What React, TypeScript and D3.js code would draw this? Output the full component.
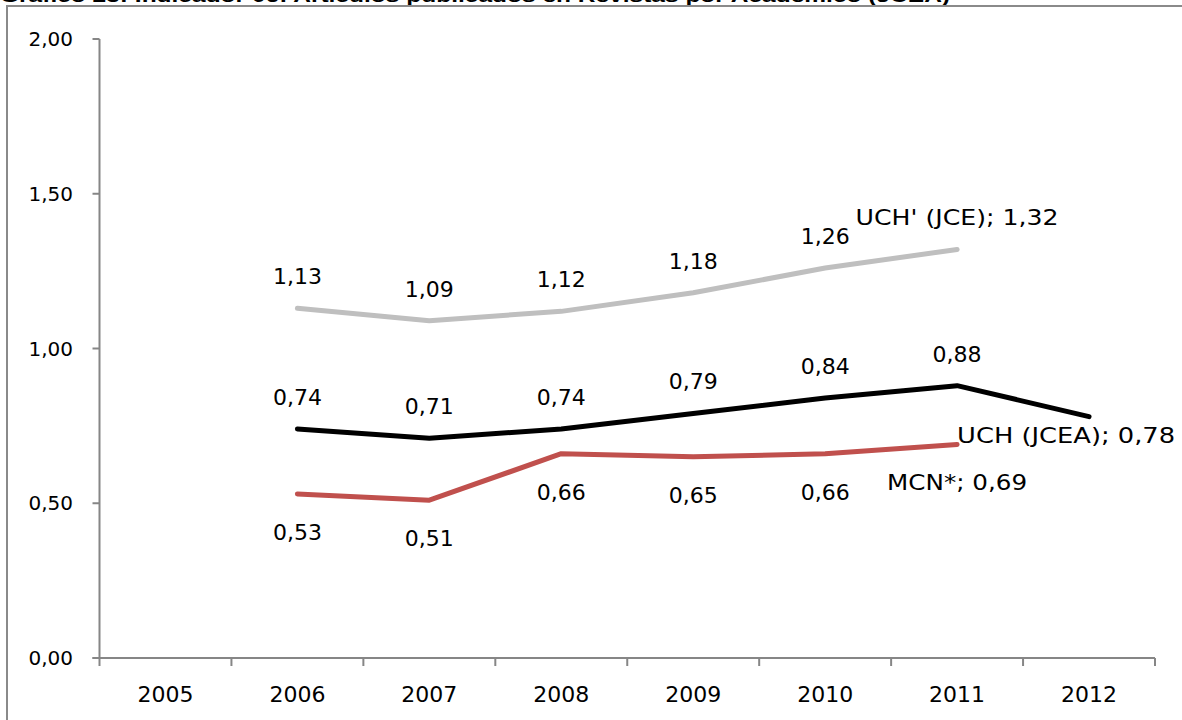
import React, { useEffect, useRef } from "react";
import * as d3 from "d3";

const years = ["2005", "2006", "2007", "2008", "2009", "2010", "2011", "2012"];
const yTicks = [0, 0.5, 1.0, 1.5, 2.0];

const jceYears = ["2006", "2007", "2008", "2009", "2010", "2011"];
const jceValues = [1.13, 1.09, 1.12, 1.18, 1.26, 1.32];

const jceaYears = ["2006", "2007", "2008", "2009", "2010", "2011", "2012"];
const jceaValues = [0.74, 0.71, 0.74, 0.79, 0.84, 0.88, 0.78];

const mcnYears = ["2006", "2007", "2008", "2009", "2010", "2011"];
const mcnValues = [0.53, 0.51, 0.66, 0.65, 0.66, 0.69];

const title = "Gráfico 23: Indicador 06: Artículos publicados en Revistas por Académico (JCEA)";

const fmt = (v: number) => v.toFixed(2).replace(".", ",");

export default function App() {
  const ref = useRef<SVGSVGElement>(null);

  useEffect(() => {
    const svg = d3.select(ref.current);
    svg.selectAll("*").remove();
    const W = 1182, H = 720;
    const left = 99.5, right = 1155, top = 39, bottom = 658;
    const font = "'DejaVu Sans', sans-serif";

    const x = d3.scaleBand<string>().domain(years).range([left, right]).padding(0);
    const y = d3.scaleLinear().domain([0, 2]).range([bottom, top]);
    const cx = (yr: string) => (x(yr) as number) + x.bandwidth() / 2;

    svg.append("rect").attr("width", W).attr("height", H).attr("fill", "#fff");

    // title (cut off at top)
    svg.append("text")
      .attr("x", 0).attr("y", 2)
      .attr("font-family", "Arial, 'Liberation Sans', sans-serif")
      .attr("font-weight", "bold").attr("font-size", 18)
      .attr("textLength", 950).attr("lengthAdjust", "spacingAndGlyphs")
      .attr("fill", "#000").text(title);

    // outer border
    svg.append("rect")
      .attr("x", 7).attr("y", 6).attr("width", 1200).attr("height", 730)
      .attr("fill", "none").attr("stroke", "#8a8a8a").attr("stroke-width", 2);

    const axisColor = "#868686";
    // y axis
    svg.append("line").attr("x1", left).attr("x2", left).attr("y1", top).attr("y2", bottom)
      .attr("stroke", axisColor).attr("stroke-width", 2);
    yTicks.forEach((t) => {
      svg.append("line").attr("x1", left - 7).attr("x2", left).attr("y1", y(t)).attr("y2", y(t))
        .attr("stroke", axisColor).attr("stroke-width", 2);
      svg.append("text").attr("x", 73).attr("y", y(t) + 7)
        .attr("text-anchor", "end").attr("font-family", font).attr("font-size", 20)
        .attr("fill", "#000").text(fmt(t));
    });

    // x axis
    svg.append("line").attr("x1", left - 7).attr("x2", right).attr("y1", bottom).attr("y2", bottom)
      .attr("stroke", axisColor).attr("stroke-width", 2);
    const edges = years.map((yr) => x(yr) as number).concat([right]);
    edges.forEach((e) => {
      svg.append("line").attr("x1", e).attr("x2", e).attr("y1", bottom).attr("y2", bottom + 8)
        .attr("stroke", axisColor).attr("stroke-width", 2);
    });
    years.forEach((yr) => {
      svg.append("text").attr("x", cx(yr)).attr("y", 702)
        .attr("text-anchor", "middle").attr("font-family", font).attr("font-size", 22)
        .attr("fill", "#000").text(yr);
    });

    const line = d3.line<[string, number]>().x((d) => cx(d[0])).y((d) => y(d[1]));

    const series = [
      { yrs: jceYears, vals: jceValues, color: "#BFBFBF", pos: "above", name: "UCH' (JCE)" },
      { yrs: jceaYears, vals: jceaValues, color: "#000000", pos: "above", name: "UCH (JCEA)" },
      { yrs: mcnYears, vals: mcnValues, color: "#C0504D", pos: "below", name: "MCN*" },
    ];

    series.forEach((s) => {
      const pts = s.yrs.map((yr, i) => [yr, s.vals[i]] as [string, number]);
      svg.append("path").attr("d", line(pts) as string)
        .attr("fill", "none").attr("stroke", s.color).attr("stroke-width", 5)
        .attr("stroke-linejoin", "round").attr("stroke-linecap", "round");
    });

    const label = (tx: number, ty: number, txt: string, anchor: string, len?: number) => {
      const t = svg.append("text").attr("x", tx).attr("y", ty)
        .attr("text-anchor", anchor).attr("font-family", font).attr("font-size", 22)
        .attr("fill", "#000").text(txt);
      if (len) t.attr("textLength", len).attr("lengthAdjust", "spacingAndGlyphs");
    };

    // JCE labels
    jceYears.forEach((yr, i) => {
      const v = jceValues[i];
      if (i === jceYears.length - 1) {
        label(cx(yr), y(v) - 24, `UCH' (JCE); ${fmt(v)}`, "middle", 203);
      } else {
        label(cx(yr), y(v) - 24, fmt(v), "middle");
      }
    });
    // JCEA labels
    jceaYears.forEach((yr, i) => {
      const v = jceaValues[i];
      if (i === jceaYears.length - 1) {
        label(cx("2011"), y(v) + 26, `UCH (JCEA); ${fmt(v)}`, "start", 218);
      } else {
        label(cx(yr), y(v) - 24, fmt(v), "middle");
      }
    });
    // MCN labels
    mcnYears.forEach((yr, i) => {
      const v = mcnValues[i];
      if (i === mcnYears.length - 1) {
        label(cx(yr), y(v) + 46, `MCN*; ${fmt(v)}`, "middle", 140);
      } else {
        label(cx(yr), y(v) + 46, fmt(v), "middle");
      }
    });
  }, []);

  return (
    <svg ref={ref} width={1182} height={720}
      style={{ position: "absolute", left: 0, top: 0, display: "block" }} />
  );
}
